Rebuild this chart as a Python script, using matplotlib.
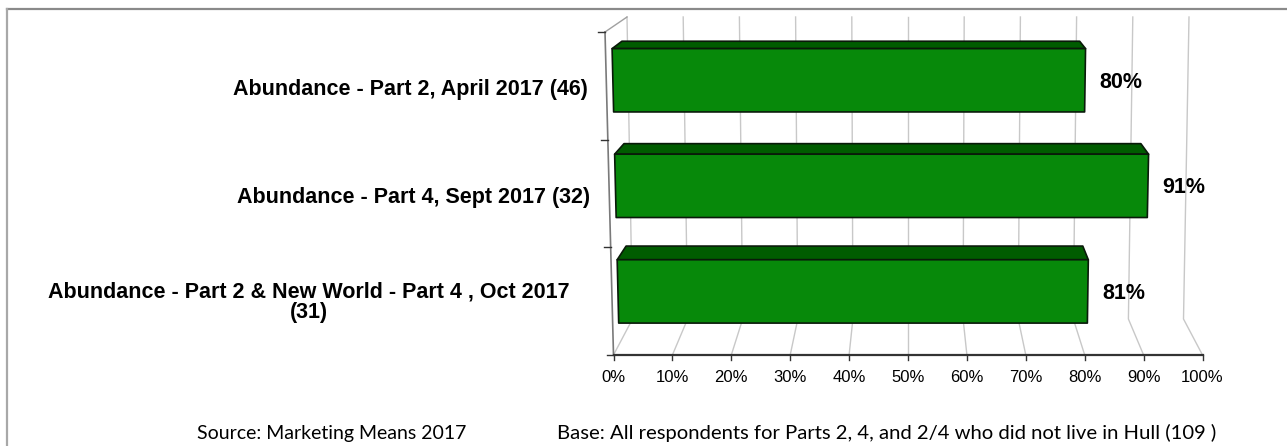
import numpy as np
import matplotlib
matplotlib.use("Agg")
import matplotlib.pyplot as plt
from matplotlib.patches import Polygon

plt.rcParams['font.family'] = ['Liberation Sans', 'DejaVu Sans']

# data
categories = ["Abundance - Part 2, April 2017 (46)",
              "Abundance - Part 4, Sept 2017 (32)",
              "Abundance - Part 2 & New World - Part 4 , Oct 2017\n(31)"]
values = [80, 91, 81]
value_labels = ["80%", "91%", "81%"]
ticks = [0, 10, 20, 30, 40, 50, 60, 70, 80, 90, 100]
tick_labels = ["0%", "10%", "20%", "30%", "40%", "50%", "60%", "70%", "80%", "90%", "100%"]
source_text = "Source: Marketing Means 2017"
base_text = "Base: All respondents for Parts 2, 4, and 2/4 who did not live in Hull (109 )"

# 3d look (excel style perspective), pixel space of the figure
CX = 908
W_FRONT = (589, 606)   # width of value axis at floor / top, front plane
W_BACK = (551, 562)    # same for the back wall
Y_FRONT = (355, 32)
Y_BACK = (319, 17)
D0, D1 = 0.3, 0.75     # bar depth
BAR_H = 0.6            # bar height as share of category band

green = '#07890a'
green_top = '#005c00'
grid_c = '#c8c8c8'


def proj(v, h, d):
    wf = W_FRONT[0] + (W_FRONT[1] - W_FRONT[0]) * h
    wb = W_BACK[0] + (W_BACK[1] - W_BACK[0]) * h
    w = wf * (1 - d) + wb * d
    yf = Y_FRONT[0] + (Y_FRONT[1] - Y_FRONT[0]) * h
    yb = Y_BACK[0] + (Y_BACK[1] - Y_BACK[0]) * h
    return CX + (v / 100.0 - 0.5) * w, yf * (1 - d) + yb * d


fig = plt.figure(figsize=(12.87, 4.46), dpi=100)
ax = fig.add_axes([0, 0, 1, 1])
ax.set_xlim(0, 1287)
ax.set_ylim(446, 0)
ax.axis('off')

# outer frame (only top and left show)
ax.plot([7, 1287], [9, 9], color='#8a8a8a', lw=1.6)
ax.plot([7, 7], [9, 446], color='#a8a8a8', lw=1.6)

# gridlines: back wall + floor
for t in ticks:
    x0, y0 = proj(t, 0, 0)
    x1, y1 = proj(t, 0, 1)
    x2, y2 = proj(t, 1, 1)
    ax.plot([x0, x1, x2], [y0, y1, y2], color=grid_c, lw=1.0, zorder=1)

# left wall top edge
xa, ya = proj(0, 1, 0)
xb, yb = proj(0, 1, 1)
ax.plot([xa, xb], [ya, yb], color='#a0a0a0', lw=1.0, zorder=1)

# front axes
xa, ya = proj(0, 0, 0)
xb, yb = proj(0, 1, 0)
ax.plot([xa, xb], [ya, yb], color='#7a7a7a', lw=1.2, zorder=2)
xa, ya = proj(0, 0, 0)
xb, yb = proj(100, 0, 0)
ax.plot([xa, xb], [ya, yb], color='#333333', lw=1.6, zorder=2)

for t, lab in zip(ticks, tick_labels):
    x, y = proj(t, 0, 0)
    ax.plot([x, x], [y, y + 5], color='#333333', lw=1.0)
    ax.text(x, 378, lab, ha='center', va='center', fontsize=12, color='black')

n = len(categories)
for k in range(n + 1):
    x, y = proj(0, k / n, 0)
    ax.plot([x - 7, x], [y, y], color='#333333', lw=1.0)

# bars
for i, (cat, v, vl) in enumerate(zip(categories, values, value_labels)):
    c = 1 - (i + 0.5) / n
    h0 = c - BAR_H / n / 2
    h1 = c + BAR_H / n / 2
    front = [proj(0, h0, D0), proj(v, h0, D0), proj(v, h1, D0), proj(0, h1, D0)]
    top = [proj(0, h1, D0), proj(v, h1, D0), proj(v, h1, D1), proj(0, h1, D1)]
    ax.add_patch(Polygon(top, closed=True, facecolor=green_top, edgecolor='#0a1a0a',
                         lw=1.2, joinstyle='round', zorder=3))
    ax.add_patch(Polygon(front, closed=True, facecolor=green, edgecolor='#0a1a0a',
                         lw=1.2, joinstyle='round', zorder=4))

    xr, _ = proj(v, h0, D0)
    ym = (proj(v, h0, D0)[1] + proj(v, h1, D0)[1]) / 2
    ax.text(xr + 15, ym + 2, vl, ha='left', va='center', fontsize=15.5,
            fontweight='bold', color='black', zorder=5)

    xl, yl = proj(0, c, 0)
    if '\n' in cat:
        ax.text(309, yl + 1, cat, ha='center', va='center', multialignment='center',
                fontsize=15.5, fontweight='bold', linespacing=1.0)
    else:
        ax.text(xl - 19, yl + 4, cat, ha='right', va='center',
                fontsize=15.5, fontweight='bold')

# footer
ax.text(197, 439, source_text, ha='left', va='baseline', fontsize=14,
        family=['Lato', 'DejaVu Sans'])
ax.text(557, 439, base_text, ha='left', va='baseline', fontsize=14.6,
        family=['Lato', 'DejaVu Sans'])

fig.savefig('out.png', dpi=100)
